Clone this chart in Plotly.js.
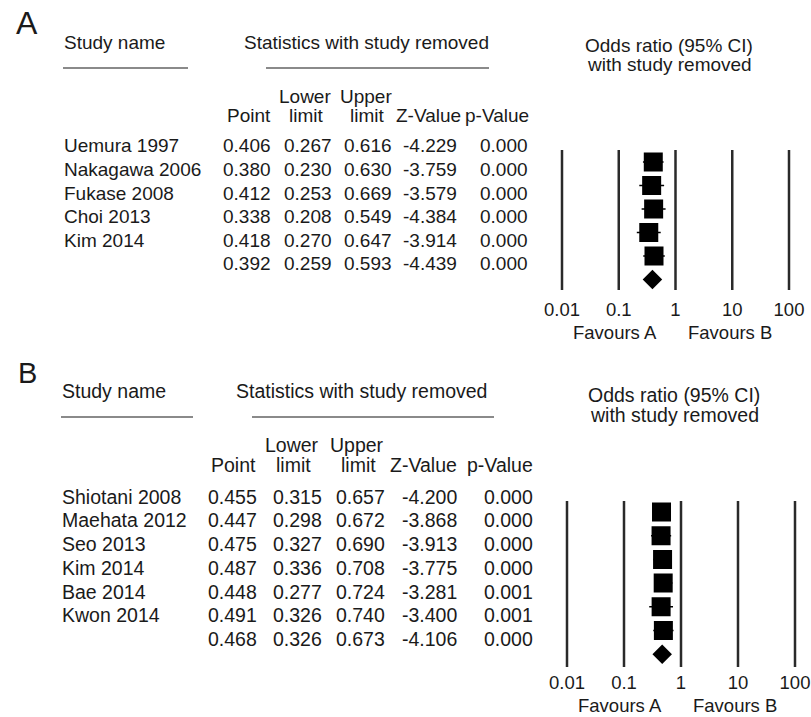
<!DOCTYPE html>
<html>
<head>
<meta charset="utf-8">
<script src="https://cdn.plot.ly/plotly-3.0.1.min.js"></script>
<style>html,body{margin:0;padding:0;background:#fff;}#chart{width:811px;height:717px;}</style>
</head>
<body>
<div id="chart"></div>
<script>
// ---------- Data: panel A ----------
const studiesA = ['Uemura 1997', 'Nakagawa 2006', 'Fukase 2008', 'Choi 2013', 'Kim 2014'];
const pointA = [0.406, 0.380, 0.412, 0.338, 0.418];
const lowerA = [0.267, 0.230, 0.253, 0.208, 0.270];
const upperA = [0.616, 0.630, 0.669, 0.549, 0.647];
const zA = [-4.229, -3.759, -3.579, -4.384, -3.914];
const pA = [0.000, 0.000, 0.000, 0.000, 0.000];
const overallA = {point: 0.392, lower: 0.259, upper: 0.593, z: -4.439, p: 0.000};

// ---------- Data: panel B ----------
const studiesB = ['Shiotani 2008', 'Maehata 2012', 'Seo 2013', 'Kim 2014', 'Bae 2014', 'Kwon 2014'];
const pointB = [0.455, 0.447, 0.475, 0.487, 0.448, 0.491];
const lowerB = [0.315, 0.298, 0.327, 0.336, 0.277, 0.326];
const upperB = [0.657, 0.672, 0.690, 0.708, 0.724, 0.740];
const zB = [-4.200, -3.868, -3.913, -3.775, -3.281, -3.400];
const pB = [0.000, 0.000, 0.000, 0.000, 0.001, 0.001];
const overallB = {point: 0.468, lower: 0.326, upper: 0.673, z: -4.106, p: 0.000};

// ---------- Labels ----------
const tickVals = [0.01, 0.1, 1, 10, 100];
const tickText = ['0.01', '0.1', '1', '10', '100'];
const colHeaders = ['Point', 'Lower|limit', 'Upper|limit', 'Z-Value', 'p-Value'];

// ---------- Layout helpers ----------
const W = 811, H = 717;
const FONT = '"Liberation Sans", Arial, Helvetica, sans-serif';
const TXT = '#1a1a1a';
const px = x => x / W;
const py = y => 1 - y / H;

const annotations = [];
const shapes = [];
function ann(text, x, y, xanchor, size) {
  annotations.push({text: text, x: px(x), y: py(y), xref: 'paper', yref: 'paper',
    xanchor: xanchor, yanchor: 'middle', showarrow: false, borderpad: 0,
    font: {family: FONT, size: size, color: TXT}});
}
function hline(x0, x1, y) {
  shapes.push({type: 'line', xref: 'paper', yref: 'paper', x0: px(x0), x1: px(x1), y0: py(y), y1: py(y),
    line: {color: '#8a8a8a', width: 2}});
}

// panel geometry (pixels)
const panels = [
  {label: 'A', labelX: 15, labelY: 23.5, labelSize: 32, fs: 19,
   studies: studiesA, point: pointA, lower: lowerA, upper: upperA, z: zA, p: pA, overall: overallA,
   titleY: 43, ulY: 68, nameX: 63, nameUl: [63, 188], statX: 366, statUl: [266, 489],
   orY: [45, 65], orX: 669,
   hdrY: [97, 116], hdr: [[271.5, 'right'], [304.5, 'center'], [365.5, 'center'], [462, 'right'], [530, 'right']],
   rowY0: 146, rowDy: 23.5, colRight: [271.7, 333.3, 393.3, 458.3, 529.3],
   lineTop: 150, lineBot: 290, sqY0: 162, sqDy: 23.5, x001: 562, ppd: 56.75, tickPad: 6,
   favY: 332, favA: 615, favB: 730},
  {label: 'B', labelX: 17, labelY: 373, labelSize: 29, fs: 19.5,
   studies: studiesB, point: pointB, lower: lowerB, upper: upperB, z: zB, p: pB, overall: overallB,
   titleY: 391, ulY: 417, nameX: 61, nameUl: [61, 193], statX: 361, statUl: [252, 494],
   orY: [395, 415], orX: 674,
   hdrY: [445, 465], hdr: [[257, 'right'], [291.5, 'center'], [357, 'center'], [458.3, 'right'], [533.5, 'right']],
   rowY0: 496.7, rowDy: 23.7, colRight: [258, 322.7, 386, 457.7, 534],
   lineTop: 501, lineBot: 667, sqY0: 512, sqDy: 23.7, x001: 567, ppd: 57, tickPad: 2,
   favY: 705, favA: 620, favB: 735}
];

const traces = [];
const layout = {
  width: W, height: H, margin: {l: 0, r: 0, t: 0, b: 0},
  paper_bgcolor: '#fff', plot_bgcolor: 'rgba(0,0,0,0)', showlegend: false,
  font: {family: FONT, color: TXT}
};

panels.forEach((P, k) => {
  const xa = k === 0 ? 'x' : 'x2', ya = k === 0 ? 'y' : 'y2';
  const xk = k === 0 ? 'xaxis' : 'xaxis2', yk = k === 0 ? 'yaxis' : 'yaxis2';
  const fs = P.fs;

  // headings
  ann(P.label, P.labelX, P.labelY, 'left', P.labelSize);
  ann('Study name', P.nameX, P.titleY, 'left', fs);
  ann('Statistics with study removed', P.statX, P.titleY, 'center', fs);
  hline(P.nameUl[0], P.nameUl[1], P.ulY);
  hline(P.statUl[0], P.statUl[1], P.ulY);
  ann('Odds ratio (95% CI)', P.orX, P.orY[0], 'center', fs);
  ann('with study removed', P.orX, P.orY[1], 'center', fs);

  // column headers
  colHeaders.forEach((h, j) => {
    const parts = h.split('|');
    if (parts.length === 2) {
      ann(parts[0], P.hdr[j][0], P.hdrY[0], P.hdr[j][1], fs);
      ann(parts[1], P.hdr[j][0] + 1.5, P.hdrY[1], P.hdr[j][1], fs);
    } else {
      ann(parts[0], P.hdr[j][0], P.hdrY[1], P.hdr[j][1], fs);
    }
  });

  // table rows
  const n = P.studies.length;
  const rows = P.studies.map((s, i) => [s, P.point[i], P.lower[i], P.upper[i], P.z[i], P.p[i]]);
  rows.push(['', P.overall.point, P.overall.lower, P.overall.upper, P.overall.z, P.overall.p]);
  rows.forEach((r, i) => {
    const y = P.rowY0 + i * P.rowDy;
    if (r[0]) ann(r[0], P.nameX, y, 'left', fs);
    for (let j = 1; j <= 5; j++) ann(r[j].toFixed(3), P.colRight[j - 1], y, 'right', fs);
  });

  // forest axes
  const xl = P.x001 - 0.25 * P.ppd, xr = P.x001 + 4.25 * P.ppd;
  layout[xk] = {type: 'log', domain: [px(xl), Math.min(1, px(xr))], range: [-2.25, 2.25], anchor: ya,
    tickvals: tickVals, ticktext: tickText, ticks: '', showgrid: false, zeroline: false, showline: false,
    ticklabelstandoff: P.tickPad,
    tickfont: {family: FONT, size: 18.5, color: TXT}, fixedrange: true};
  layout[yk] = {domain: [py(P.lineBot), py(P.lineTop)], anchor: xa,
    range: [(P.lineBot - P.sqY0) / P.sqDy, (P.lineTop - P.sqY0) / P.sqDy],
    visible: false, fixedrange: true};

  // vertical reference lines at each decade
  tickVals.forEach(v => shapes.push({type: 'line', xref: xa, yref: ya + ' domain', x0: v, x1: v, y0: 0, y1: 1,
    line: {color: '#2a2a2a', width: 2.5}, layer: 'below'}));

  // favours labels
  ann('Favours A', P.favA, P.favY, 'center', 18.5);
  ann('Favours B', P.favB, P.favY, 'center', 18.5);

  // study squares with CI
  const idx = P.studies.map((s, i) => i);
  traces.push({type: 'scatter', mode: 'markers', x: P.point, y: idx, xaxis: xa, yaxis: ya,
    marker: {symbol: 'square', size: 19, color: '#000', line: {width: 0}},
    error_x: {type: 'data', symmetric: false,
      array: P.upper.map((u, i) => u - P.point[i]),
      arrayminus: P.lower.map((l, i) => P.point[i] - l),
      color: '#000', thickness: 1.5, width: 0},
    hoverinfo: 'skip'});
  // overall diamond
  traces.push({type: 'scatter', mode: 'markers', x: [P.overall.point], y: [n], xaxis: xa, yaxis: ya,
    marker: {symbol: 'diamond', size: 15, color: '#000', line: {width: 0}}, hoverinfo: 'skip'});
});

layout.annotations = annotations;
layout.shapes = shapes;

Plotly.newPlot('chart', traces, layout, {displayModeBar: false, staticPlot: true});
</script>
</body>
</html>
